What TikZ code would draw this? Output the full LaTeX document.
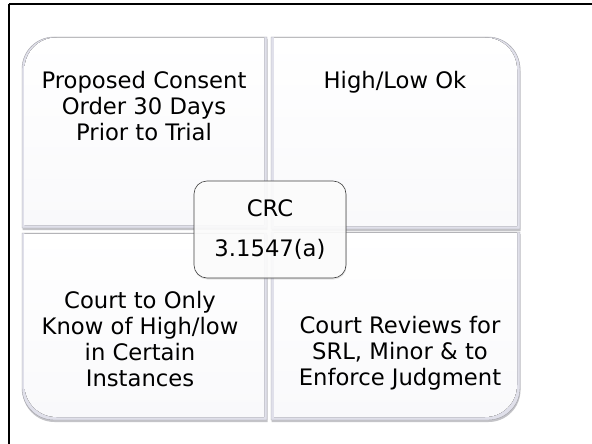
\documentclass[tikz,border=0pt]{standalone}
\usepackage{fontspec}
\setmainfont{DejaVu Sans}
\usetikzlibrary{shadows}

\definecolor{bevel}{RGB}{224,224,234}
\definecolor{panelbot}{RGB}{249,249,251}
\definecolor{edge}{RGB}{160,160,166}
\definecolor{shade}{RGB}{196,196,200}

% quadrant outlines: x1,y1,x2,y2 with one rounded outer corner
\newcommand\quadTL[4]{(#1,#4) -- (#1,#2+32) .. controls (#1,#2+14.3) and (#1+14.3,#2) .. (#1+32,#2) -- (#3,#2) -- (#3,#4) -- cycle}
\newcommand\quadTR[4]{(#1,#4) -- (#1,#2) -- (#3-32,#2) .. controls (#3-14.3,#2) and (#3,#2+14.3) .. (#3,#2+32) -- (#3,#4) -- cycle}
\newcommand\quadBR[4]{(#1,#2) -- (#3,#2) -- (#3,#4-32) .. controls (#3,#4-14.3) and (#3-14.3,#4) .. (#3-32,#4) -- (#1,#4) -- cycle}
\newcommand\quadBL[4]{(#1,#2) -- (#3,#2) -- (#3,#4) -- (#1+32,#4) .. controls (#1+14.3,#4) and (#1,#4-14.3) .. (#1,#4-32) -- cycle}

\tikzset{
  panelshadow/.style={fill=shade, shift={(0.5,2)}},
  panelbase/.style={fill=bevel},
  panelface/.style={top color=white, bottom color=panelbot},
  paneledge/.style={draw=edge, line width=0.4pt},
  label/.style={align=center, font=\fontsize{22.7}{26}\selectfont, text=black, inner sep=0pt},
  hub/.style={draw=black!75, line width=0.6pt, rounded corners=13pt, fill=white, fill opacity=0.88,
    text opacity=1, minimum width=152pt, minimum height=97pt, align=center,
    font=\fontsize{22.7}{26}\selectfont,
    drop shadow={shadow xshift=0.5pt, shadow yshift=-1.5pt, opacity=0.2}},
  frame/.style={draw=black, line width=2pt}
}

\begin{document}
\begin{tikzpicture}[x=1pt, y=-1pt]
  \useasboundingbox (0,0) rectangle (592,444);
  \fill[white] (0,0) rectangle (592,444);

  % page frame
  \draw[frame] (8.5,4.5) -- (592,4.5);
  \draw[frame] (8.5,4.5) -- (8.5,444);

  % top-left quadrant
  \fill[panelshadow] \quadTL{22}{37}{267}{228};
  \fill[panelbase] \quadTL{22}{37}{267}{228};
  \fill[panelface] \quadTL{24.5}{37.5}{264}{225};
  \draw[paneledge] \quadTL{22}{37}{267}{228};

  % top-right quadrant
  \fill[panelshadow] \quadTR{271}{37}{520}{229};
  \fill[panelbase] \quadTR{271}{37}{520}{229};
  \fill[panelface] \quadTR{274}{37.5}{517}{226};
  \draw[paneledge] \quadTR{271}{37}{520}{229};

  % bottom-left quadrant
  \fill[panelshadow] \quadBL{22}{233}{267}{420};
  \fill[panelbase] \quadBL{22}{233}{267}{420};
  \fill[panelface] \quadBL{24.5}{233.5}{264}{417};
  \draw[paneledge] \quadBL{22}{233}{267}{420};

  % bottom-right quadrant
  \fill[panelshadow] \quadBR{271}{232}{520}{420};
  \fill[panelbase] \quadBR{271}{232}{520}{420};
  \fill[panelface] \quadBR{274}{232.5}{517}{417};
  \draw[paneledge] \quadBR{271}{232}{520}{420};

  % quadrant texts
  \node[label] (consent) at (144,106) {Proposed Consent\\Order 30 Days\\Prior to Trial};
  \node[label] (highlow) at (395,82) {High/Low Ok};
  \node[label] (know) at (140,339.5) {Court to Only\\Know of High/low\\in Certain\\Instances};
  \node[label] (review) at (400,353) {Court Reviews for\\SRL, Minor \& to\\Enforce Judgment};

  % central rule
  \node[hub] (crc) at (270,229.5) {CRC\\[14pt]3.1547(a)};
\end{tikzpicture}
\end{document}
